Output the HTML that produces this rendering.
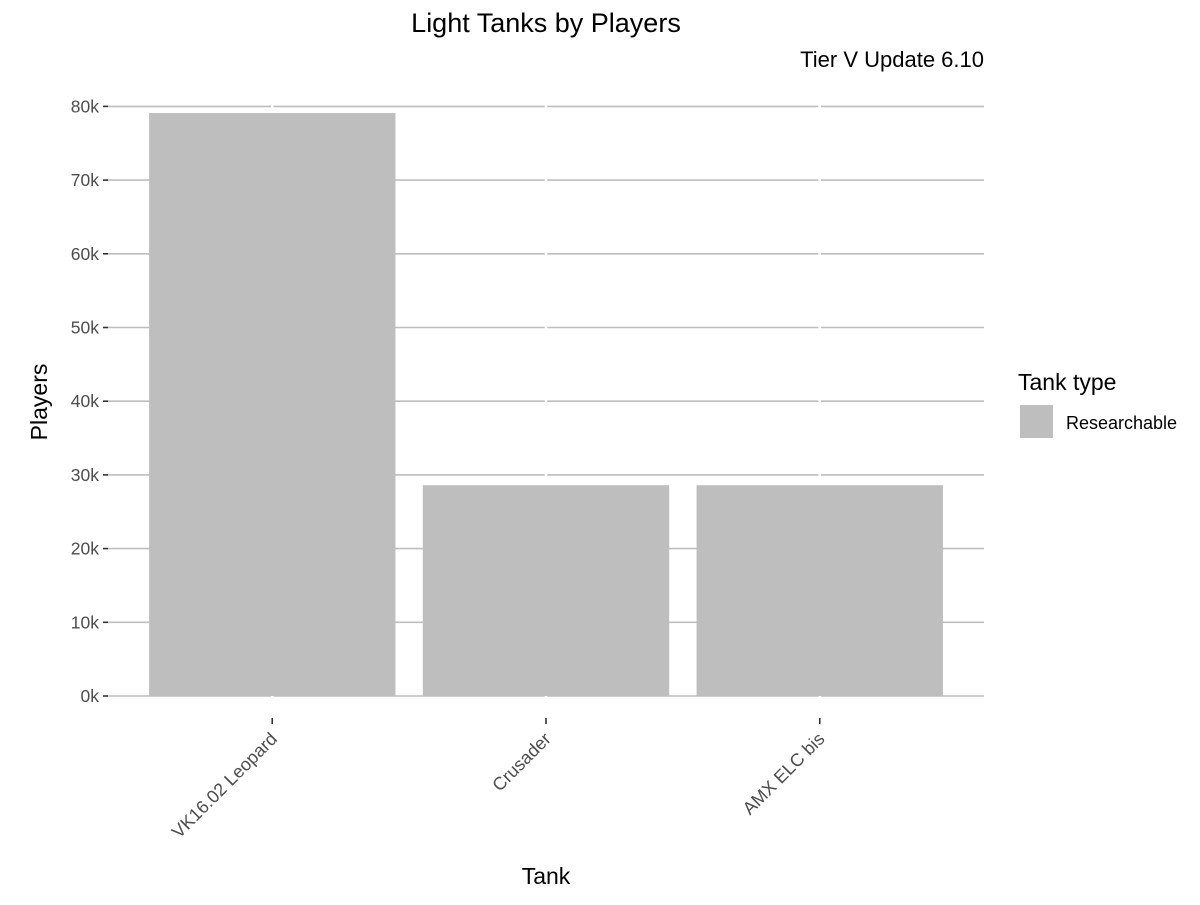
<!DOCTYPE html>
<html><head><meta charset="utf-8"><style>
body{margin:0;background:#fff;}
svg text{font-family:"Liberation Sans",sans-serif;}
</style></head><body>
<svg id="chart" width="1200" height="900">
<text x="546" y="32" font-size="27" text-anchor="middle" fill="#000">Light Tanks by Players</text>
<text x="984" y="67" font-size="22" text-anchor="end" fill="#000">Tier V Update 6.10</text>
<g id="grid"></g><g id="bars"></g><g id="axes"></g>
<text x="546" y="884" font-size="23" text-anchor="middle" fill="#000">Tank</text>
<text transform="translate(47,402) rotate(-90)" font-size="23" text-anchor="middle" fill="#000">Players</text>
<text x="1018" y="390" font-size="23" fill="#000">Tank type</text>
<rect x="1020" y="405" width="33" height="33" fill="#bebebe"/>
<text x="1066" y="429" font-size="18" fill="#000">Researchable</text>
</svg>
<script>
const categories=["VK16.02 Leopard","Crusader","AMX ELC bis"];
const players=[79100,28600,28600];
const yTicks=[0,10000,20000,30000,40000,50000,60000,70000,80000];
const yTickLabels=["0k","10k","20k","30k","40k","50k","60k","70k","80k"];
const NS="http://www.w3.org/2000/svg";
const L=108,R=984;
const step=(R-L)/(categories.length+0.2);
function xc(i){return L+step*(i+0.6);}
function y(v){return 696-v*(589.6/80000);}
function mk(t,a,p){const e=document.createElementNS(NS,t);for(const k in a)e.setAttribute(k,a[k]);p.appendChild(e);return e;}
const grid=document.getElementById('grid'),bars=document.getElementById('bars'),axes=document.getElementById('axes');
yTicks.forEach((v,i)=>{
 const l=mk('line',{x1:L,x2:R,y1:y(v),y2:y(v),stroke:'#bebebe','stroke-width':1.6},grid);
 
 
 const tk=mk('line',{x1:103,x2:108,y1:y(v),y2:y(v),stroke:'#333','stroke-width':1.6},axes);
 
 
 const t=mk('text',{x:99,y:y(v)+6,'font-size':17.5,'text-anchor':'end',fill:'#4d4d4d'},axes);
 t.textContent=yTickLabels[i];
 
 
});
categories.forEach((c,i)=>{
 const g=mk('line',{x1:xc(i),x2:xc(i),y1:100,y2:700,stroke:'#fff','stroke-width':2.5},grid);
 
 
 const bw=step*0.9;
 const b=mk('rect',{x:xc(i)-bw/2,y:y(players[i]),width:bw,height:y(0)-y(players[i]),fill:'#bebebe'},bars);
 
 
 const tk=mk('line',{x1:xc(i),x2:xc(i),y1:718,y2:724,stroke:'#333','stroke-width':1.6},axes);
 
 
 const t=mk('text',{transform:`translate(${xc(i)+6},${740}) rotate(-45)`,'font-size':18,'text-anchor':'end',fill:'#4d4d4d'},axes);
 t.textContent=c;
 
 
});
</script>
</body></html>
